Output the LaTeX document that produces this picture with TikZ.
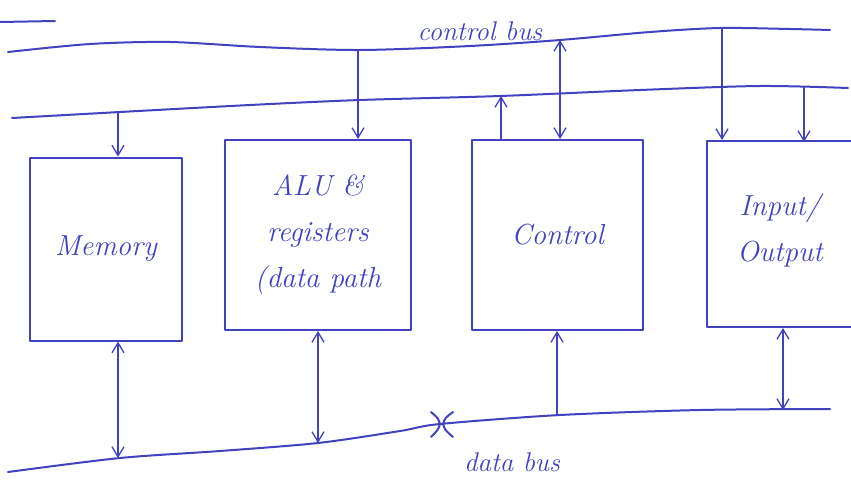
\documentclass[tikz,border=0pt]{standalone}
\usetikzlibrary{arrows.meta}
\definecolor{ink}{RGB}{66,66,190}
\tikzset{inktip/.tip={Straight Barb[length=10pt,width=12pt,line width=1.3pt]}}
\begin{document}
\begin{tikzpicture}[x=1pt,y=-1pt,
  ink line/.style={draw=ink,line width=2pt,line cap=round,line join=round},
  unit/.style={ink line,rectangle,inner sep=0pt,font=\fontsize{29}{46}\selectfont\itshape,text=ink,align=center},
  conn/.style={draw=ink,line width=1.3pt,-{inktip}},
  conn2/.style={draw=ink,line width=1.3pt,{inktip}-{inktip}},
  buslabel/.style={font=\fontsize{27}{30}\selectfont\itshape,text=ink,inner sep=0pt}]
\clip (0,0) rectangle (851,485);
\fill[white] (0,0) rectangle (851,485);
% fragment at top left
\draw[ink line] (0,22) -- (55,21);
% buses
\draw[ink line] plot[smooth] coordinates {(8,52) (90,44) (170,42) (260,47) (360,50) (470,46) (560,40) (650,32) (720,28) (790,29) (830,30)};
\draw[ink line] plot[smooth] coordinates {(12,118) (120,112) (250,105) (360,100) (500,96) (640,90) (760,86) (848,88)};
\draw[ink line] plot[smooth] coordinates {(8,472) (120,458) (220,451) (318,443) (400,431) (440,424) (560,415) (700,410) (830,409)};
% crossing mark on data bus
\draw[ink line] (431,412) .. controls (438,418) .. (440,424) .. controls (438,430) .. (431,437);
\draw[ink line] (453,412) .. controls (445,418) .. (443,424) .. controls (445,430) .. (453,437);
% bus points
\coordinate (cb1) at (358,50);
\coordinate (cb2) at (560,40);
\coordinate (cb3) at (722,28);
\coordinate (l2a) at (118,112);
\coordinate (l2b) at (501,96);
\coordinate (l2c) at (804,86);
\coordinate (db1) at (118,458);
\coordinate (db2) at (318,443);
\coordinate (db3) at (557,415);
\coordinate (db4) at (783,410);
% units
\node[unit,minimum width=152pt,minimum height=183pt] (mem) at (106,249) {Memory};
\node[unit,minimum width=186pt,minimum height=190pt] (alu) at (318,235) {ALU \&\\registers\\(data path};
\node[unit,minimum width=171pt,minimum height=190pt] (ctrl) at (557.5,235) {Control};
\node[unit,minimum width=180pt,minimum height=186pt] (io) at (797,234) {};
\node[unit,draw=none] (iot) at (780,230) {Input/\\Output};
% labels
\node[buslabel] (cbl) at (480,31) {control bus};
\node[buslabel] (dbl) at (512,462) {data bus};
% connectors
\draw[conn] (cb1) -- (cb1 |- alu.north);
\draw[conn2] (cb2) -- (cb2 |- ctrl.north);
\draw[conn] (cb3) -- (cb3 |- io.north);
\draw[conn] (l2a) -- (l2a |- mem.north);
\draw[conn] (l2b |- ctrl.north) -- (l2b);
\draw[conn] (l2c) -- ([yshift=-2pt]l2c |- io.north);
\draw[conn2] (db1 |- mem.south) -- (db1);
\draw[conn2] (db2 |- alu.south) -- (db2);
\draw[conn] (db3) -- (db3 |- ctrl.south);
\draw[conn2] (db4 |- io.south) -- (db4);
\end{tikzpicture}
\end{document}
